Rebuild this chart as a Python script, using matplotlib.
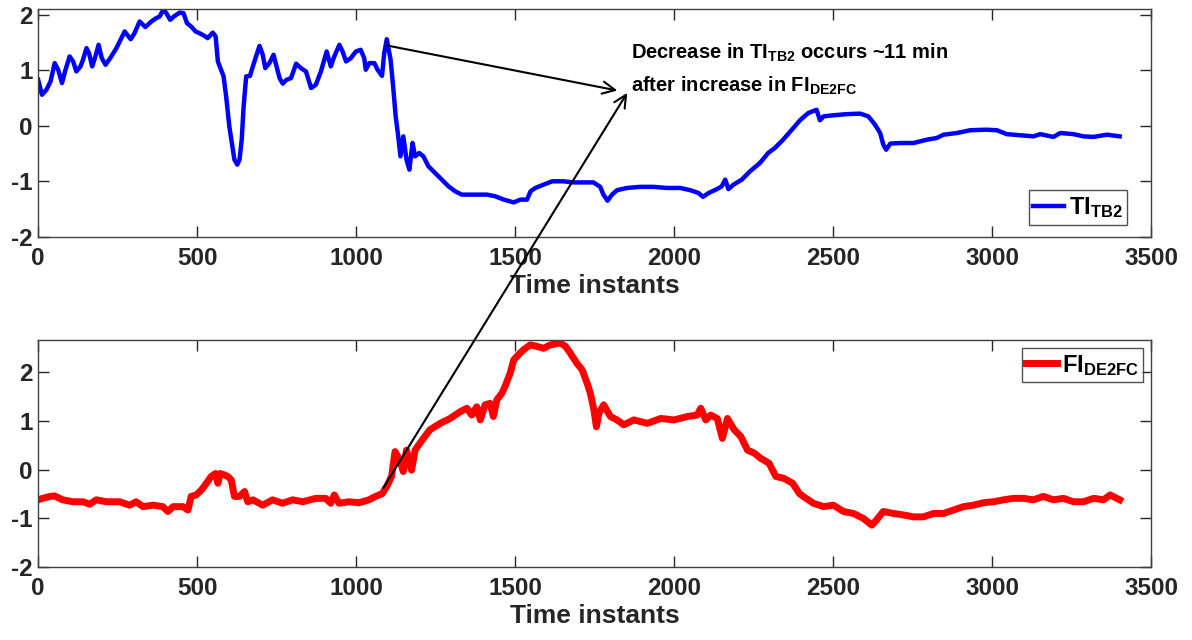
import numpy as np
import matplotlib
matplotlib.use('Agg')
import matplotlib.pyplot as plt
from matplotlib.patches import ConnectionPatch

# TI_TB2 (top panel)
t_tb2 = [0, 12, 26, 39, 52, 63, 75, 86, 99, 110, 120, 133, 141, 152, 160, 170, 180, 190, 200, 212,
         230, 246, 272, 291, 303, 319, 337, 356, 371, 382, 394, 403, 415, 429, 445, 457, 468, 481,
         495, 507, 523, 533, 549, 558, 565, 575, 583, 591, 601, 609, 617, 626, 633, 640, 646, 654,
         666, 675, 685, 696, 706, 714, 727, 740, 748, 759, 769, 781, 795, 811, 826, 842, 858, 873,
         889, 907, 920, 931, 947, 957, 968, 983, 999, 1014, 1025, 1030, 1041, 1057, 1067, 1081,
         1088, 1096, 1108, 1116, 1124, 1132, 1139, 1148, 1158, 1167, 1177, 1185, 1198, 1211, 1227,
         1248, 1269, 1290, 1311, 1332, 1369, 1411, 1437, 1464, 1495, 1516, 1537, 1548, 1563, 1589,
         1616, 1652, 1683, 1714, 1746, 1767, 1777, 1790, 1804, 1820, 1851, 1893, 1935, 1977, 2019,
         2050, 2076, 2090, 2108, 2134, 2149, 2160, 2170, 2186, 2212, 2238, 2269, 2295, 2316, 2342,
         2368, 2395, 2421, 2447, 2458, 2469, 2500, 2542, 2584, 2610, 2631, 2647, 2657, 2666, 2679,
         2710, 2752, 2794, 2825, 2846, 2888, 2930, 2982, 3014, 3045, 3087, 3129, 3150, 3192, 3213,
         3255, 3286, 3318, 3360, 3400]
ti_tb2 = [0.83, 0.56, 0.65, 0.80, 1.13, 1.01, 0.77, 1.01, 1.25, 1.16, 0.98, 1.07, 1.19, 1.40, 1.31,
          1.07, 1.25, 1.46, 1.22, 1.10, 1.25, 1.40, 1.70, 1.56, 1.67, 1.88, 1.78, 1.88, 1.94, 1.97,
          2.10, 2.03, 1.91, 1.98, 2.04, 2.03, 1.85, 1.79, 1.70, 1.67, 1.62, 1.58, 1.68, 1.61, 1.16,
          1.01, 0.89, 0.53, -0.01, -0.31, -0.61, -0.70, -0.61, -0.25, 0.35, 0.89, 0.90, 1.07, 1.25,
          1.44, 1.28, 1.04, 1.13, 1.28, 1.10, 0.86, 0.76, 0.83, 0.86, 1.12, 1.04, 0.98, 0.68, 0.74,
          0.98, 1.34, 1.07, 1.25, 1.46, 1.34, 1.16, 1.22, 1.34, 1.37, 1.22, 1.01, 1.13, 1.13, 1.01,
          0.90, 1.31, 1.56, 1.19, 0.71, 0.17, -0.19, -0.55, -0.19, -0.61, -0.79, -0.31, -0.55, -0.49,
          -0.55, -0.73, -0.85, -0.97, -1.09, -1.18, -1.24, -1.24, -1.24, -1.27, -1.33, -1.38, -1.33,
          -1.33, -1.18, -1.12, -1.06, -1.00, -1.00, -1.02, -1.02, -1.02, -1.10, -1.24, -1.35, -1.24,
          -1.16, -1.12, -1.10, -1.10, -1.12, -1.12, -1.16, -1.21, -1.28, -1.21, -1.14, -1.09, -0.97,
          -1.14, -1.06, -0.97, -0.82, -0.67, -0.49, -0.40, -0.25, -0.08, 0.10, 0.23, 0.29, 0.10, 0.17,
          0.19, 0.21, 0.22, 0.17, 0.02, -0.13, -0.34, -0.43, -0.32, -0.31, -0.31, -0.25, -0.22, -0.16,
          -0.13, -0.08, -0.07, -0.08, -0.15, -0.17, -0.19, -0.15, -0.20, -0.13, -0.15, -0.19, -0.20,
          -0.16, -0.19]

# FI_DE2FC (bottom panel)
t_de2fc = [0, 14, 37, 52, 77, 110, 141, 162, 183, 214, 256, 288, 308, 330, 361, 392, 408, 424, 455,
           471, 481, 497, 513, 529, 544, 558, 565, 572, 586, 596, 607, 617, 633, 649, 659, 675, 706,
           737, 768, 800, 832, 873, 904, 920, 931, 946, 977, 1009, 1040, 1061, 1082, 1098, 1111,
           1122, 1137, 1148, 1158, 1174, 1185, 1211, 1232, 1264, 1295, 1327, 1348, 1363, 1379, 1390,
           1405, 1421, 1431, 1442, 1458, 1468, 1484, 1495, 1510, 1526, 1547, 1568, 1589, 1610, 1642,
           1658, 1673, 1694, 1710, 1726, 1736, 1747, 1755, 1763, 1778, 1799, 1820, 1841, 1873, 1915,
           1957, 1999, 2041, 2072, 2083, 2099, 2114, 2135, 2151, 2167, 2188, 2209, 2230, 2251, 2272,
           2298, 2319, 2345, 2372, 2393, 2405, 2437, 2469, 2500, 2532, 2563, 2594, 2621, 2636, 2657,
           2689, 2720, 2752, 2783, 2815, 2846, 2878, 2909, 2940, 2972, 3003, 3035, 3066, 3098, 3129,
           3160, 3192, 3223, 3255, 3286, 3318, 3349, 3370, 3400]
fi_de2fc = [-0.62, -0.59, -0.55, -0.54, -0.62, -0.66, -0.66, -0.71, -0.62, -0.66, -0.66, -0.73,
            -0.66, -0.76, -0.73, -0.76, -0.86, -0.76, -0.76, -0.83, -0.55, -0.52, -0.42, -0.28,
            -0.14, -0.08, -0.28, -0.08, -0.11, -0.14, -0.21, -0.55, -0.55, -0.45, -0.66, -0.62,
            -0.73, -0.62, -0.69, -0.62, -0.66, -0.59, -0.59, -0.69, -0.52, -0.69, -0.66, -0.68,
            -0.62, -0.55, -0.49, -0.32, -0.14, 0.37, 0.20, -0.04, 0.40, -0.01, 0.40, 0.64, 0.82,
            0.95, 1.05, 1.19, 1.26, 1.12, 1.29, 1.02, 1.33, 1.36, 1.09, 1.43, 1.57, 1.71, 1.98, 2.25,
            2.36, 2.46, 2.56, 2.53, 2.49, 2.56, 2.60, 2.53, 2.39, 2.18, 2.05, 1.77, 1.57, 1.23, 0.88,
            1.16, 1.33, 1.09, 1.02, 0.92, 1.02, 0.95, 1.05, 1.02, 1.09, 1.12, 1.26, 1.02, 1.12, 1.05,
            0.64, 1.05, 0.82, 0.68, 0.40, 0.34, 0.23, 0.13, -0.14, -0.18, -0.28, -0.49, -0.55, -0.69,
            -0.76, -0.73, -0.86, -0.90, -1.00, -1.14, -1.03, -0.86, -0.90, -0.93, -0.97, -0.97,
            -0.90, -0.90, -0.83, -0.76, -0.73, -0.68, -0.66, -0.62, -0.59, -0.59, -0.62, -0.55,
            -0.62, -0.59, -0.66, -0.66, -0.59, -0.62, -0.52, -0.62]

x_ticks = [0, 500, 1000, 1500, 2000, 2500, 3000, 3500]
y_ticks = [-2, -1, 0, 1, 2]


def style_axes(ax):
    ax.set_xlim(0, 3500)
    ax.set_xticks(x_ticks)
    ax.set_yticks(y_ticks)
    ax.tick_params(direction='in', length=8, width=1, top=True, right=True,
                   labelsize=17.5, colors='#262626')
    ax.tick_params(axis='x', pad=7)
    ax.tick_params(axis='y', pad=4)
    for lab in ax.get_xticklabels() + ax.get_yticklabels():
        lab.set_fontweight('bold')
    for sp in ax.spines.values():
        sp.set_color('#404040')
        sp.set_linewidth(1)
    ax.set_xlabel('Time instants', fontsize=19, fontweight='bold', color='#262626', labelpad=3)


def main():
    plt.rcParams['font.family'] = ['Liberation Sans', 'DejaVu Sans']
    plt.rcParams['axes.unicode_minus'] = False
    plt.rcParams['mathtext.fontset'] = 'custom'
    plt.rcParams['mathtext.rm'] = 'Liberation Sans:bold'
    plt.rcParams['mathtext.bf'] = 'Liberation Sans:bold'
    plt.rcParams['mathtext.it'] = 'Liberation Sans:bold'

    fig = plt.figure(figsize=(11.92, 6.4), dpi=100)
    ax1 = fig.add_axes([0.032, 0.630, 0.934, 0.3555])
    ax2 = fig.add_axes([0.032, 0.114, 0.934, 0.3547])

    ax1.plot(t_tb2, ti_tb2, color='#0000ff', lw=3.2, label=r'TI$_{\mathrm{TB2}}$')
    ax1.set_ylim(-2, 2.1)
    style_axes(ax1)

    ax2.plot(t_de2fc, fi_de2fc, color='#ff0000', lw=5, label=r'FI$_{\mathrm{DE2FC}}$')
    ax2.set_ylim(-2, 2.66)
    style_axes(ax2)

    leg_kw = dict(fontsize=17, frameon=True, fancybox=False, handlelength=1.3,
                  handletextpad=0.2, borderpad=0.2, borderaxespad=0)
    leg1 = ax1.legend(loc='lower right', bbox_to_anchor=(1 - 24 / 1113, 12 / 228), **leg_kw)
    leg2 = ax2.legend(loc='upper right', bbox_to_anchor=(1 - 8 / 1113, 1 - 8 / 227), **leg_kw)
    for leg in (leg1, leg2):
        leg.get_frame().set_edgecolor('#262626')
        leg.get_frame().set_linewidth(1)
        for txt in leg.get_texts():
            txt.set_fontweight('bold')

    # annotation text and the two arrows
    fig.text(0.529, 0.909, r'Decrease in TI$_{\mathrm{TB2}}$ occurs ~11 min',
             fontsize=14.5, fontweight='bold', va='baseline')
    fig.text(0.529, 0.857, r'after increase in FI$_{\mathrm{DE2FC}}$',
             fontsize=14.5, fontweight='bold', va='baseline')

    arr = '->,head_length=0.45,head_width=0.22'
    a1 = ConnectionPatch(xyA=(1097, 1.447), coordsA=ax1.transData,
                         xyB=(1821, 0.636), coordsB=ax1.transData,
                         arrowstyle=arr, mutation_scale=20, lw=1.5, color='black')
    a2 = ConnectionPatch(xyA=(1085, -0.376), coordsA=ax2.transData,
                         xyB=(1852, 0.595), coordsB=ax1.transData,
                         arrowstyle=arr, mutation_scale=20, lw=1.5, color='black')
    fig.add_artist(a1)
    fig.add_artist(a2)

    fig.savefig('out.png', dpi=100)


if __name__ == '__main__':
    main()
